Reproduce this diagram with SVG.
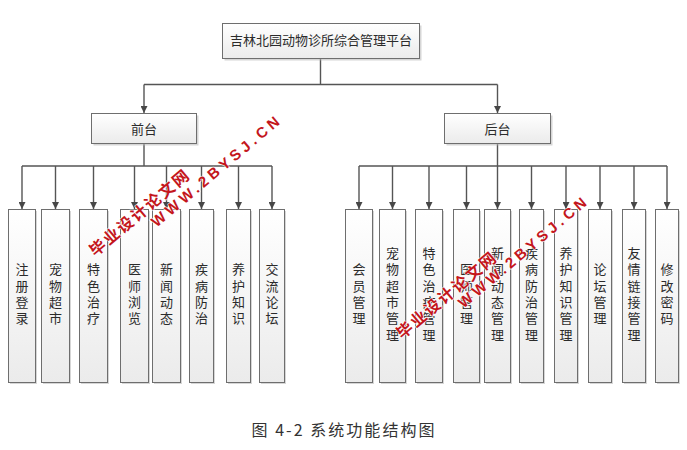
<svg xmlns="http://www.w3.org/2000/svg" width="687" height="450" viewBox="0 0 687 450">
<defs>
<linearGradient id="g" x1="0" y1="0" x2="0" y2="1">
<stop offset="0" stop-color="#ffffff"/>
<stop offset="1" stop-color="#ebebeb"/>
</linearGradient>
<marker id="arr" markerUnits="userSpaceOnUse" markerWidth="7" markerHeight="7" refX="7" refY="3.5" orient="auto">
<path d="M0,0 L7,3.5 L0,7 z" fill="#474747"/>
</marker>
</defs>
<style>
.box{fill:url(#g);stroke:#6e6e6e;stroke-width:1}
.sh{fill:#b5b5b5;opacity:0.55}
.t{font-family:"Noto Sans CJK SC","Microsoft YaHei",sans-serif;font-size:13px;fill:#2b2b2b;text-anchor:middle}
.v{writing-mode:vertical-rl;letter-spacing:3.3px}
.ln{fill:none;stroke:#555;stroke-width:1.4}
.ar{fill:none;stroke:#555;stroke-width:1.4;marker-end:url(#arr)}
.cap{font-family:"Noto Sans CJK SC",sans-serif;font-size:16px;fill:#333}
.wm{font-weight:bold;fill:#c4161c;text-anchor:middle;dominant-baseline:central;stroke:#ffffff;stroke-width:1.5;paint-order:stroke;stroke-opacity:0.8}
.wc{font-family:"Noto Sans CJK SC",sans-serif;font-size:16px;letter-spacing:2px}
.we{font-family:"Liberation Sans",Arial,sans-serif;font-size:15px}
</style>

<g id="connectors">
<path class="ln" d="M320.5 58.5 V84.5 M144 84.5 H497.5"/>
<path class="ar" d="M144 84.5 V113"/>
<path class="ar" d="M497.5 84.5 V113"/>
<path class="ln" d="M144 143.5 V166 M22 166 H272"/>
<path class="ar" d="M22 166 V209"/>
<path class="ar" d="M55.5 166 V209"/>
<path class="ar" d="M93.5 166 V209"/>
<path class="ar" d="M134.5 166 V209"/>
<path class="ar" d="M166.5 166 V209"/>
<path class="ar" d="M201.5 166 V209"/>
<path class="ar" d="M238.5 166 V209"/>
<path class="ar" d="M272 166 V209"/>
<path class="ln" d="M497.5 143.5 V166 M359 166 H667"/>
<path class="ar" d="M359 166 V209"/>
<path class="ar" d="M392.5 166 V209"/>
<path class="ar" d="M429 166 V209"/>
<path class="ar" d="M466.5 166 V209"/>
<path class="ar" d="M497.5 166 V209"/>
<path class="ar" d="M531.5 166 V209"/>
<path class="ar" d="M566 166 V209"/>
<path class="ar" d="M600 166 V209"/>
<path class="ar" d="M634 166 V209"/>
<path class="ar" d="M667 166 V209"/>
</g>

<g id="root">
<rect class="sh" x="224.5" y="25.5" width="197" height="35"/>
<rect class="box" x="222.5" y="23.5" width="197" height="35"/>
<text class="t" x="321" y="45">吉林北园动物诊所综合管理平台</text>
</g>
<g id="qiantai">
<rect class="sh" x="93.5" y="115.5" width="105" height="30"/>
<rect class="box" x="91.5" y="113.5" width="105" height="30"/>
<text class="t" x="144" y="134">前台</text>
</g>
<g id="houtai">
<rect class="sh" x="446.5" y="115.5" width="106" height="30"/>
<rect class="box" x="444.5" y="113.5" width="106" height="30"/>
<text class="t" x="497.5" y="134">后台</text>
</g>

<g id="f1"><rect class="sh" x="10" y="211" width="27" height="173"/><rect class="box" x="8.5" y="209.5" width="27" height="173"/>
<text class="t v" x="22" y="295.6">注册登录</text></g>
<g id="f2"><rect class="sh" x="43" y="211" width="28" height="173"/><rect class="box" x="41.5" y="209.5" width="28" height="173"/>
<text class="t v" x="55.5" y="295.6">宠物超市</text></g>
<g id="f3"><rect class="sh" x="81" y="211" width="28" height="173"/><rect class="box" x="79.5" y="209.5" width="28" height="173"/>
<text class="t v" x="93.5" y="295.6">特色治疗</text></g>
<g id="f4"><rect class="sh" x="122" y="211" width="28" height="173"/><rect class="box" x="120.5" y="209.5" width="28" height="173"/>
<text class="t v" x="134.5" y="295.6">医师浏览</text></g>
<g id="f5"><rect class="sh" x="154" y="211" width="28" height="173"/><rect class="box" x="152.5" y="209.5" width="28" height="173"/>
<text class="t v" x="166.5" y="295.6">新闻动态</text></g>
<g id="f6"><rect class="sh" x="191" y="211" width="24" height="173"/><rect class="box" x="189.5" y="209.5" width="24" height="173"/>
<text class="t v" x="201.5" y="295.6">疾病防治</text></g>
<g id="f7"><rect class="sh" x="228" y="211" width="24" height="173"/><rect class="box" x="226.5" y="209.5" width="24" height="173"/>
<text class="t v" x="238.5" y="295.6">养护知识</text></g>
<g id="f8"><rect class="sh" x="261" y="211" width="25" height="173"/><rect class="box" x="259.5" y="209.5" width="25" height="173"/>
<text class="t v" x="272" y="295.6">交流论坛</text></g>

<g id="b1"><rect class="sh" x="347" y="211" width="27" height="173"/><rect class="box" x="345.5" y="209.5" width="27" height="173"/>
<text class="t v" x="359" y="295.6">会员管理</text></g>
<g id="b2"><rect class="sh" x="381" y="211" width="26" height="173"/><rect class="box" x="379.5" y="209.5" width="26" height="173"/>
<text class="t v" x="392.5" y="295.6">宠物超市管理</text></g>
<g id="b3"><rect class="sh" x="417" y="211" width="27" height="173"/><rect class="box" x="415.5" y="209.5" width="27" height="173"/>
<text class="t v" x="429" y="295.6">特色治疗管理</text></g>
<g id="b4"><rect class="sh" x="455" y="211" width="26" height="173"/><rect class="box" x="453.5" y="209.5" width="26" height="173"/>
<text class="t v" x="466.5" y="295.6">医师管理</text></g>
<g id="b5"><rect class="sh" x="486" y="211" width="26" height="173"/><rect class="box" x="484.5" y="209.5" width="26" height="173"/>
<text class="t v" x="497.5" y="295.6">新闻动态管理</text></g>
<g id="b6"><rect class="sh" x="521" y="211" width="24" height="173"/><rect class="box" x="519.5" y="209.5" width="24" height="173"/>
<text class="t v" x="531.5" y="295.6">疾病防治管理</text></g>
<g id="b7"><rect class="sh" x="556" y="211" width="23" height="173"/><rect class="box" x="554.5" y="209.5" width="23" height="173"/>
<text class="t v" x="566" y="295.6">养护知识管理</text></g>
<g id="b8"><rect class="sh" x="590" y="211" width="23" height="173"/><rect class="box" x="588.5" y="209.5" width="23" height="173"/>
<text class="t v" x="600" y="295.6">论坛管理</text></g>
<g id="b9"><rect class="sh" x="624" y="211" width="23" height="173"/><rect class="box" x="622.5" y="209.5" width="23" height="173"/>
<text class="t v" x="634" y="295.6">友情链接管理</text></g>
<g id="b10"><rect class="sh" x="657" y="211" width="23" height="173"/><rect class="box" x="655.5" y="209.5" width="23" height="173"/>
<text class="t v" x="667" y="295.6">修改密码</text></g>

<text class="cap" x="251.5" y="436" textLength="183" lengthAdjust="spacing">图 4-2 系统功能结构图</text>

<g id="watermarks">
<text class="wm wc" x="139" y="211.5" transform="rotate(-40 139 211.5)">毕业设计论文网</text>
<text class="wm we" x="215" y="171.5" transform="rotate(-40 215 171.5)" textLength="162" lengthAdjust="spacing">WWW.2BYSJ.CN</text>
<text class="wm wc" x="446" y="294" transform="rotate(-40 446 294)">毕业设计论文网</text>
<text class="wm we" x="522" y="252.5" transform="rotate(-40 522 252.5)" textLength="162" lengthAdjust="spacing">WWW.2BYSJ.CN</text>
</g>
</svg>
